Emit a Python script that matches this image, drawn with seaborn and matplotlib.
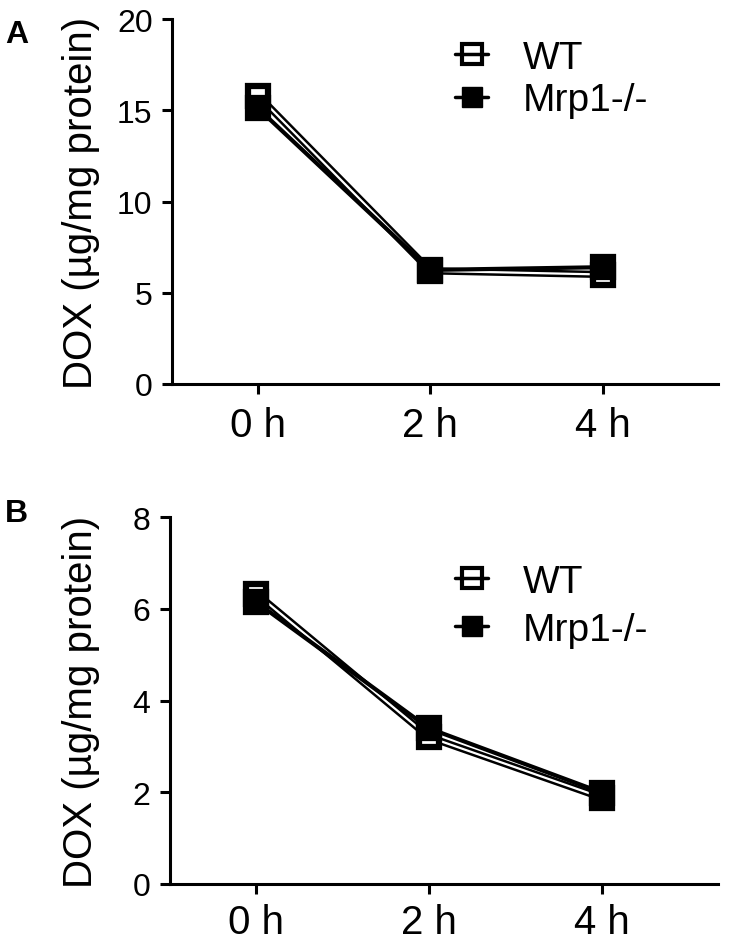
import matplotlib
matplotlib.use("Agg")
import matplotlib.pyplot as plt
from matplotlib.lines import Line2D
import seaborn as sns
import pandas as pd

# time points and values
time_labels = ["0 h", "2 h", "4 h"]
a_wt = [15.8, 6.2, 6.0]
a_ko = [15.1, 6.25, 6.4]
b_wt = [6.33, 3.2, 1.88]
b_ko = [6.14, 3.39, 1.99]
series_names = ["WT", "Mrp1-/-"]

sns.set_style("ticks")
plt.rcParams['font.family'] = ['Liberation Sans', 'DejaVu Sans']
plt.rcParams.update({
    'axes.linewidth': 2.2,
    'axes.edgecolor': 'black',
    'axes.labelcolor': 'black',
    'text.color': 'black',
    'xtick.color': 'black',
    'ytick.color': 'black',
})

fig = plt.figure(figsize=(7.34, 9.45), dpi=100)
W, H = 734.0, 945.0


def panel(rect, wt, ko, ymax, ystep, label_x, leg_y, leg_sp, xpad):
    ax = fig.add_axes(rect)
    df = pd.DataFrame({"time": time_labels, "wt": wt, "ko": ko})
    # WT: black outer line with white core, open square
    sns.lineplot(data=df, x="time", y="wt", ax=ax, color="black", lw=5.2, sort=False)
    sns.lineplot(data=df, x="time", y="wt", ax=ax, color="white", lw=1.6, sort=False,
                 marker="s", markersize=15, markerfacecolor="white",
                 markeredgecolor="black", markeredgewidth=4.5)
    # Mrp1-/-: solid black with filled square
    sns.lineplot(data=df, x="time", y="ko", ax=ax, color="black", lw=3, sort=False,
                 marker="s", markersize=15, markerfacecolor="black",
                 markeredgecolor="black", markeredgewidth=4.5)
    ax.set_xlim(-0.5, 2.67)
    ax.set_ylim(0, ymax)
    ax.set_yticks(range(0, ymax + 1, ystep))
    ax.set_xlabel("")
    ax.set_ylabel("DOX (\u00b5g/mg protein)", fontsize=29)
    ax.yaxis.set_label_coords(label_x, 0.5)
    ax.tick_params(axis="y", labelsize=23, length=7, width=2.2, pad=7, direction="out")
    ax.tick_params(axis="x", labelsize=29, length=7, width=2.2, pad=xpad, direction="out")
    sns.despine(ax=ax)
    handles = [
        Line2D([], [], color="black", lw=2.5, marker="s", markersize=14,
               markerfacecolor="none", markeredgecolor="black", markeredgewidth=3),
        Line2D([], [], color="black", lw=2.5, marker="s", markersize=14,
               markerfacecolor="black", markeredgecolor="black"),
    ]
    ax.legend(handles, series_names, frameon=False, fontsize=28, loc="upper left",
              bbox_to_anchor=((455 - rect[0] * W) / (rect[2] * W), leg_y),
              handlelength=0.85, handletextpad=0.9, labelspacing=leg_sp,
              borderaxespad=0, borderpad=0)
    return ax


panel([172 / W, 1 - 385 / H, 546 / W, 365 / H], a_wt, a_ko, 20, 5, -0.132, 1 - 21 / 365, 0.16, 9)
panel([170 / W, 1 - 885 / H, 548 / W, 367 / H], b_wt, b_ko, 8, 2, -0.128, 1 - 47 / 367, 0.31, 7)

fig.text(5 / W, 1 - 43 / H, "A", fontsize=23, fontweight="bold", va="baseline")
fig.text(5 / W, 1 - 522 / H, "B", fontsize=23, fontweight="bold", va="baseline")

fig.savefig("out.png", dpi=100)
